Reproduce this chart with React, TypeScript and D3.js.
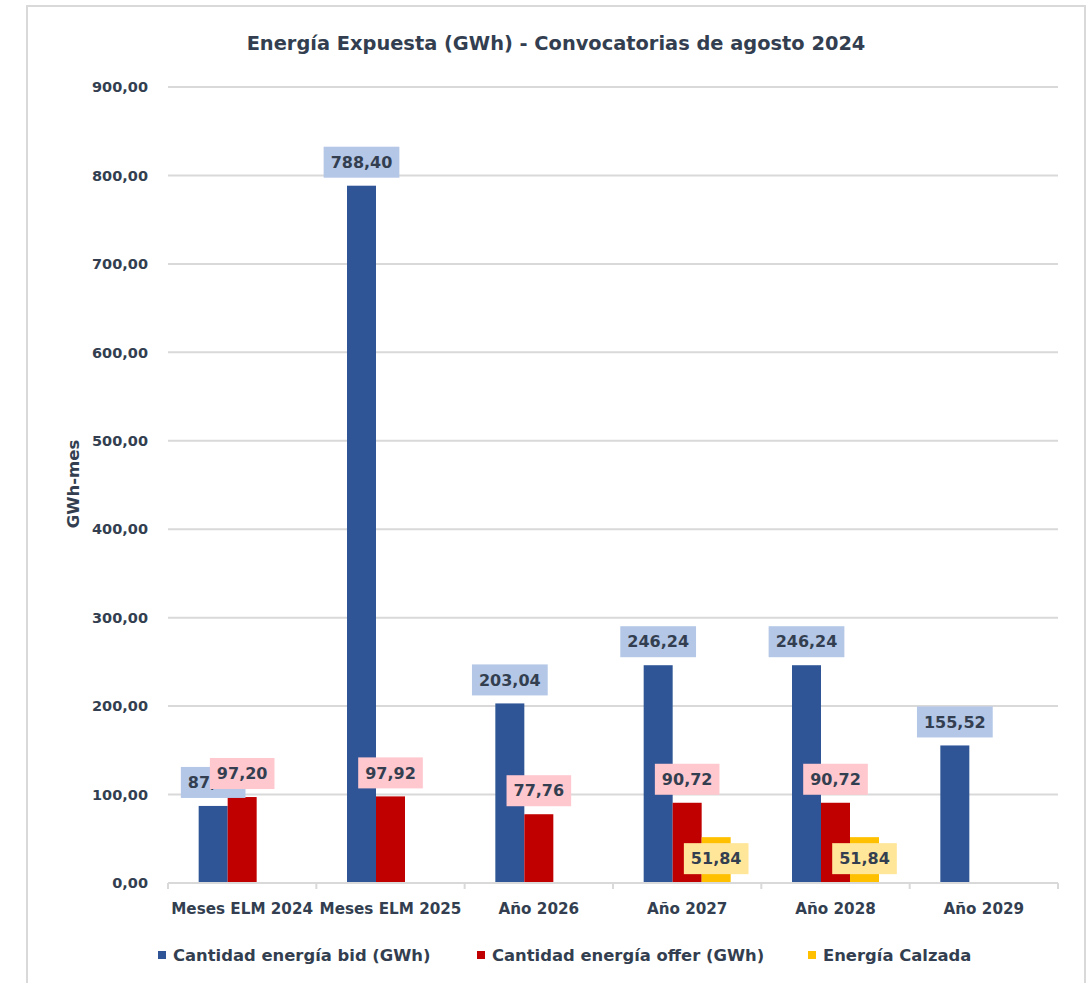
import React, { useEffect, useRef } from "react";
import * as d3 from "d3";

const categories = ["Meses ELM 2024", "Meses ELM 2025", "Año 2026", "Año 2027", "Año 2028", "Año 2029"];
const seriesNames = ["Cantidad energía bid (GWh)", "Cantidad energía offer (GWh)", "Energía Calzada"];
const bidValues: (number | null)[] = [87.12, 788.4, 203.04, 246.24, 246.24, 155.52];
const offerValues: (number | null)[] = [97.2, 97.92, 77.76, 90.72, 90.72, null];
const calzadaValues: (number | null)[] = [null, null, null, 51.84, 51.84, null];
const yTicks = [0, 100, 200, 300, 400, 500, 600, 700, 800, 900];
const title = "Energía Expuesta (GWh) - Convocatorias de agosto 2024";
const yTitle = "GWh-mes";

const colors = ["#2f5597", "#c00000", "#ffc000"];
const labelFills = ["#b4c7e7", "#ffc7ce", "#ffe699"];
const textColor = "#333f50";
const FONT = "'DejaVu Sans', Lato, sans-serif";

const fmt = (v: number) => v.toFixed(2).replace(".", ",");

export default function App() {
  const ref = useRef<SVGSVGElement>(null);
  useEffect(() => {
    const svg = d3.select(ref.current!);
    svg.selectAll("*").remove();
    const left = 168, right = 1058, top = 87, bottom = 883;

    // frame
    svg.append("rect").attr("x", 27).attr("y", 6).attr("width", 1058).attr("height", 1000)
      .attr("fill", "#fff").attr("stroke", "#d9d9d9").attr("stroke-width", 2);

    const y = d3.scaleLinear().domain([0, 900]).range([bottom, top]);
    const x = d3.scaleBand<string>().domain(categories).range([left, right]).padding(0);
    const bw = x.bandwidth();
    const groupW = 87;
    const inner = d3.scaleBand<number>().domain([0, 1, 2]).range([(bw - groupW) / 2, (bw + groupW) / 2]).padding(0);

    // gridlines
    svg.append("g").selectAll("line").data(yTicks.filter(t => t > 0)).join("line")
      .attr("x1", left).attr("x2", right).attr("y1", d => y(d)).attr("y2", d => y(d))
      .attr("stroke", "#d9d9d9").attr("stroke-width", 2);

    // y tick labels
    svg.append("g").selectAll("text").data(yTicks).join("text")
      .attr("x", 148).attr("y", d => y(d)).attr("dy", "0.36em").attr("text-anchor", "end")
      .attr("font-family", FONT).attr("font-weight", 700).attr("font-size", 14.5).attr("fill", textColor)
      .text(d => fmt(d));

    // y title
    svg.append("text").attr("transform", `translate(79,${484}) rotate(-90)`)
      .attr("text-anchor", "middle").attr("font-family", FONT).attr("font-weight", 700).attr("font-size", 16.5)
      .attr("fill", textColor).text(yTitle);

    // title
    svg.append("text").attr("x", 556).attr("y", 43).attr("dy", "0.36em").attr("text-anchor", "middle")
      .attr("font-family", FONT).attr("font-weight", 700).attr("font-size", 19.4).attr("fill", textColor).text(title);

    const all = [bidValues, offerValues, calzadaValues];

    // bars
    all.forEach((vals, si) => {
      svg.append("g").selectAll("rect").data(vals.map((v, i) => ({ v, c: categories[i] })).filter(d => d.v != null))
        .join("rect")
        .attr("x", d => x(d.c)! + inner(si)!)
        .attr("width", inner.bandwidth())
        .attr("y", d => y(d.v as number))
        .attr("height", d => bottom - y(d.v as number))
        .attr("fill", colors[si]);
    });

    // x axis
    svg.append("line").attr("x1", left).attr("x2", right).attr("y1", bottom).attr("y2", bottom)
      .attr("stroke", "#d9d9d9").attr("stroke-width", 2);
    const bounds = categories.map(c => x(c)!).concat([right]);
    svg.append("g").selectAll("line").data(bounds).join("line")
      .attr("x1", d => d).attr("x2", d => d).attr("y1", bottom).attr("y2", bottom + 6)
      .attr("stroke", "#d9d9d9").attr("stroke-width", 2);
    svg.append("g").selectAll("text").data(categories).join("text")
      .attr("x", d => x(d)! + bw / 2).attr("y", 909).attr("dy", "0.36em").attr("text-anchor", "middle")
      .attr("font-family", FONT).attr("font-weight", 700).attr("font-size", 15.2).attr("fill", textColor)
      .text(d => d);

    // data labels
    all.forEach((vals, si) => {
      vals.forEach((v, i) => {
        if (v == null) return;
        const cx = x(categories[i])! + inner(si)! + inner.bandwidth() / 2;
        const bh = 31;
        const boxTop = si === 2 ? y(v) + 6 : y(v) - 8 - bh;
        const g = svg.append("g");
        const rect = g.append("rect").attr("fill", labelFills[si]);
        const t = g.append("text").attr("x", cx).attr("y", boxTop + bh / 2).attr("dy", "0.36em")
          .attr("text-anchor", "middle").attr("font-family", FONT).attr("font-weight", 700)
          .attr("font-size", 16).attr("fill", textColor).text(fmt(v));
        const tw = (t.node() as SVGTextElement).getComputedTextLength();
        const bwid = tw + 14;
        rect.attr("x", cx - bwid / 2).attr("y", boxTop).attr("width", bwid).attr("height", bh);
      });
    });

    // legend
    const legX = [158, 477, 808];
    seriesNames.forEach((n, i) => {
      svg.append("rect").attr("x", legX[i]).attr("y", 951).attr("width", 8).attr("height", 8).attr("fill", colors[i]);
      svg.append("text").attr("x", legX[i] + 15).attr("y", 955).attr("dy", "0.36em")
        .attr("font-family", FONT).attr("font-weight", 700).attr("font-size", 16.4).attr("fill", textColor).text(n);
    });
  }, []);
  return <svg ref={ref} width={1089} height={983} style={{ position: "absolute", left: 0, top: 0, background: "#fff" }} />;
}
